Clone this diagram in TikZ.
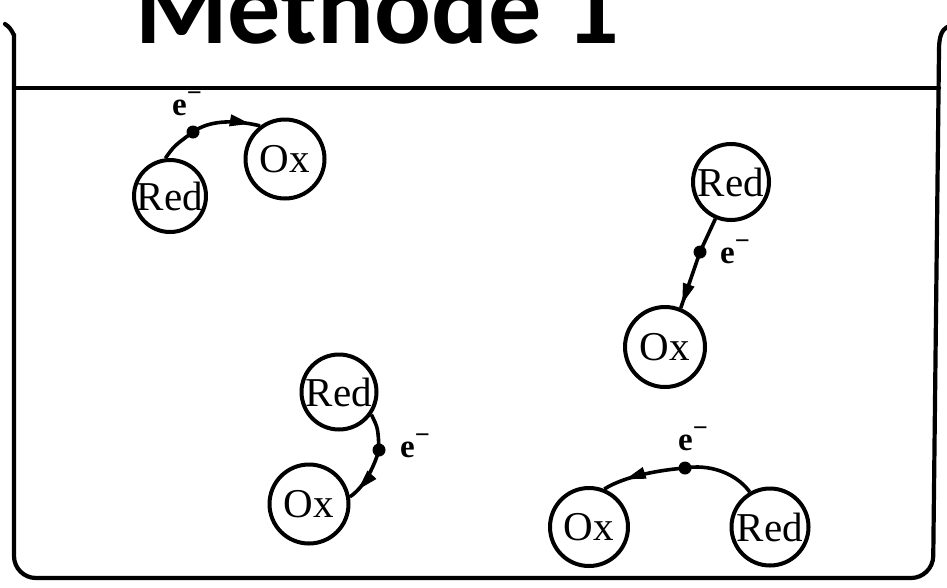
\documentclass[tikz,border=0pt]{standalone}
\usepackage{fontspec}
\setmainfont{Liberation Serif}
\newfontfamily\titlefont{Carlito}
\usetikzlibrary{arrows.meta,decorations.markings}

\begin{document}
\begin{tikzpicture}[x=1pt,y=-1pt,
  species/.style={circle, draw, line width=4pt, minimum size=#1, inner sep=0pt,
    font=\fontsize{41}{41}\selectfont},
  species/.default=78pt,
  transfer/.style={line width=3.6pt},
  arrowmark/.style={postaction={decorate}, decoration={markings,
    mark=at position #1 with {\arrow[line width=1pt]{Triangle[length=20pt,width=12pt]}}}},
  eldot/.style={circle, fill, inner sep=0pt, minimum size=13pt},
  elabel/.style={font=\fontsize{33}{33}\selectfont\bfseries, inner sep=0pt},
  wall/.style={line width=4.2pt, line cap=round, line join=round}]

\useasboundingbox (0,0) rectangle (947,587);
\clip (0,0) rectangle (947,587);

% title
\node[anchor=base west, inner sep=0pt,
      font=\titlefont\bfseries\fontsize{106}{106}\selectfont] (title) at (135,43) {Methode 1};

% beaker and liquid surface
\draw[wall, rounded corners=22pt]
  (5,24) .. controls (13,29) and (14,38) .. (14,56)
  -- (14,578) -- (933,578) -- (939,50);
\draw[wall] (939,50) .. controls (939,36) and (942,30) .. (947,27);
\draw[wall] (14,88) -- (939,88);

% species
\node[species=72pt] (red1) at (170,196) {Red};
\node[species=79pt] (ox1)  at (285,159) {Ox};
\node[species=76pt] (red2) at (731,182) {Red};
\node[species=80pt] (ox2)  at (665,347) {Ox};
\node[species=75pt] (red3) at (339,392) {Red};
\node[species=79pt] (ox3)  at (309,504) {Ox};
\node[species=78pt] (ox4)  at (589,527) {Ox};
\node[species=77pt] (red4) at (770,527) {Red};

% electrons on their way
\node[eldot] (d1) at (193,132) {};
\node[eldot] (d2) at (700,252) {};
\node[eldot] (d3) at (379,450) {};
\node[eldot] (d4) at (685,468) {};

\node[elabel] (e1) at (187,104) {e\raisebox{0.42em}{\scalebox{0.8}{−}}};
\node[elabel] (e2) at (735,252) {e\raisebox{0.42em}{\scalebox{0.8}{−}}};
\node[elabel] (e3) at (415,446) {e\raisebox{0.42em}{\scalebox{0.8}{−}}};
\node[elabel] (e4) at (693,439) {e\raisebox{0.42em}{\scalebox{0.8}{−}}};

% transfer paths
\draw[transfer] (red1.97) .. controls (174,146) .. (d1.center);
\draw[transfer, arrowmark=0.85] (d1.center) .. controls (208,121) and (232,119) .. (ox1.127);

\draw[transfer] (red2.247) -- (d2.center);
\draw[transfer, arrowmark=0.92] (d2.center) -- (ox2.68);

\draw[transfer] (red3.-35) .. controls (378,428) .. (d3.center);
\draw[transfer, arrowmark=0.8] (d3.center) .. controls (373,470) and (363,488) .. (ox3.10);

\draw[transfer] (red4.120) .. controls (735,472) and (708,464) .. (d4.center);
\draw[transfer, arrowmark=0.72] (d4.center) .. controls (660,470) and (625,476) .. (ox4.68);
\end{tikzpicture}
\end{document}
